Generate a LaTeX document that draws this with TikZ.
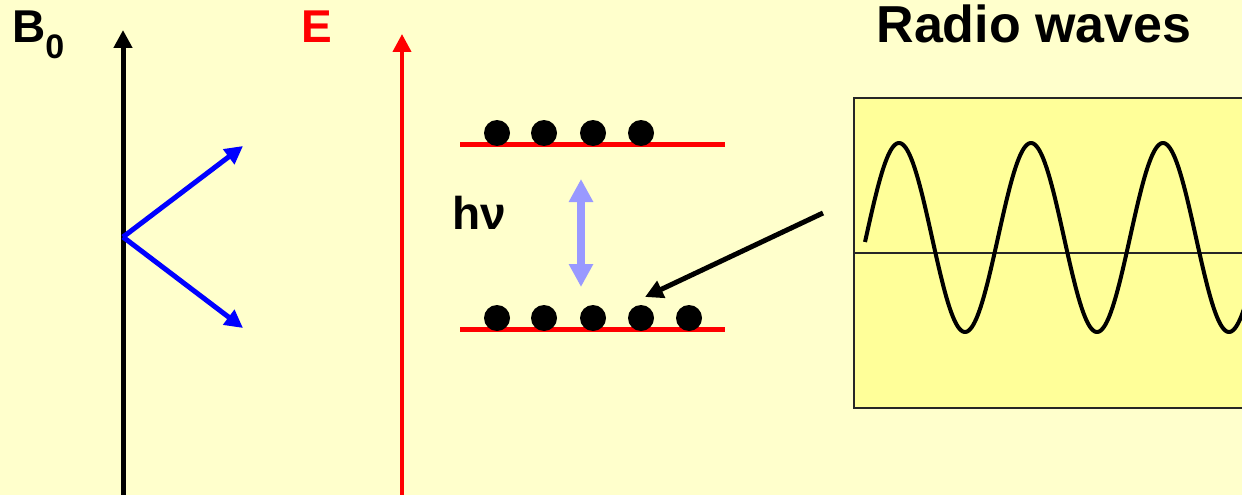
\documentclass[tikz,border=0pt]{standalone}
\usepackage{fontspec}
\setmainfont{Liberation Sans}
\usetikzlibrary{arrows.meta}
\definecolor{bg}{HTML}{FFFFCC}
\definecolor{boxfill}{HTML}{FFFF99}
\definecolor{lvl}{HTML}{FF0000}
\definecolor{pblue}{HTML}{0000FF}
\definecolor{lblue}{HTML}{9999FF}
\begin{document}
\begin{tikzpicture}[x=1pt,y=-1pt,
  lbl/.style={font=\fontsize{46}{50}\selectfont\bfseries, inner sep=0pt},
  dot/.style={circle, fill=black, minimum size=26pt, inner sep=0pt},
  level/.style={draw=lvl, line width=5pt},
  bigtip/.style={-{Triangle[length=18pt,width=18pt]}},
]
\useasboundingbox (0,0) rectangle (1242,495);
\fill[bg] (0,0) rectangle (1242,495);

% labels
\node[lbl, anchor=base west] (b0) at (12,43) {B\textsubscript{\fontsize{34}{36}\selectfont 0}};
\node[lbl, anchor=base west, text=lvl] (E) at (301,43) {E};
\node[lbl, anchor=base, font=\fontsize{52}{56}\selectfont\bfseries] (rw) at (1034,43) {Radio waves};
\node[lbl, anchor=base west] (hnu) at (452,229) {hν};

% B0 axis
\coordinate (bbot) at (123,495);
\coordinate (btop) at (123,30);
\draw[line width=5pt, bigtip] (bbot) -- (btop);

% spin vectors
\coordinate (sorig) at (123,237);
\coordinate (sup1) at (243,146);
\coordinate (sdn1) at (243,328);
\draw[pblue, line width=5pt, bigtip] (sorig) -- (sup1);
\draw[pblue, line width=5pt, bigtip] (sorig) -- (sdn1);

% E axis
\coordinate (ebot) at (402,495);
\coordinate (etop) at (402,34);
\draw[lvl, line width=4pt, bigtip] (ebot) -- (etop);

% levels
\coordinate (u1) at (460,144);
\coordinate (u2) at (725,144);
\coordinate (l1) at (460,329);
\coordinate (l2) at (725,329);
\draw[level] (u1) -- (u2);
\draw[level] (l1) -- (l2);

\foreach \xx/\nm in {497/ua,544/ub,593/uc,641/ud}{
  \node[dot] (\nm) at (\xx,133) {};
}
\foreach \xx/\nm in {497/la,544/lb,593/lc,641/ld,689/le}{
  \node[dot] (\nm) at (\xx,318) {};
}

% transition arrow
\coordinate (tt) at (581,179);
\coordinate (tb) at (581,287);
\draw[lblue, line width=8pt, {Triangle[length=23pt,width=23pt]}-{Triangle[length=23pt,width=23pt]}] (tb) -- (tt);

% radio arrow
\coordinate (rs) at (823,213);
\coordinate (re) at (645,297);
\draw[line width=5pt, bigtip] (rs) -- (re);

% wave box
\draw[fill=boxfill, draw=black!85, line width=2pt] (854,98) rectangle (1260,408);
\coordinate (ax1) at (854,253);
\coordinate (ax2) at (1260,253);
\draw[black!85, line width=1.5pt] (ax1) -- (ax2);
\draw[line width=4pt, line join=round] plot[domain=865:1245, samples=300] (\x, {237.5 - 94.5*sin(2.727273*(\x-866))});
\end{tikzpicture}
\end{document}
